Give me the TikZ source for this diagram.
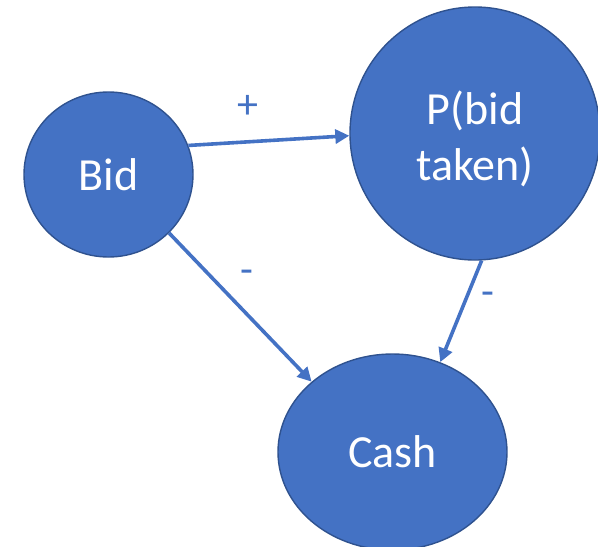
\documentclass[tikz,border=0pt]{standalone}
\usepackage{fontspec}
\setmainfont{Carlito}
\usetikzlibrary{shapes.geometric,arrows.meta}
\definecolor{nodefill}{HTML}{4472C4}
\definecolor{nodeline}{HTML}{2F528F}
\begin{document}
\begin{tikzpicture}[x=1pt,y=-1pt,
  var/.style={ellipse,draw=nodeline,line width=1.4pt,fill=nodefill,text=white,
    inner sep=0pt,font=\fontsize{46}{56}\selectfont,align=center},
  link/.style={draw=nodefill,line width=3.6pt,
    -{Triangle[length=14pt,width=14pt]}},
  sign/.style={text=nodefill,font=\fontsize{42}{48}\selectfont,inner sep=0pt}]
\useasboundingbox (0,0) rectangle (598,547);
% variables
\node[var,minimum width=169pt,minimum height=165pt] (bid) at (108.5,174.5) {Bid};
\node[var,minimum width=250pt,minimum height=253pt] (pb) at (475,133.5)
  {\rule{0pt}{45pt}P(bid\\taken)};
\node[var,minimum width=229pt,minimum height=196pt] (cash) at (392.5,452) {Cash};
% influences
\draw[link] (bid.20) -- (pb.181);
\draw[link] (bid.-44) -- (cash.139);
\draw[link] (pb.-87) -- (cash.62);
% signs of the influences
\node[sign] (plus) at (248,107) {+};
\node[sign] (m1) at (247,277) {-};
\node[sign] (m2) at (488,299) {-};
\end{tikzpicture}
\end{document}
